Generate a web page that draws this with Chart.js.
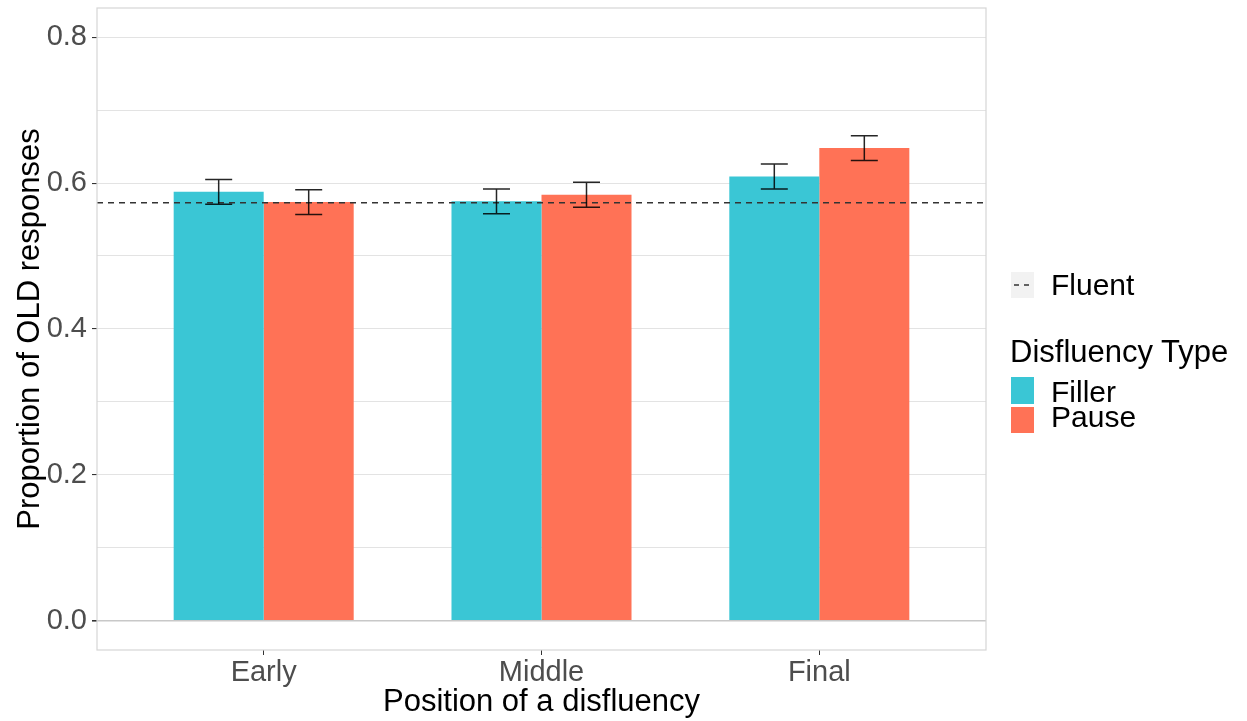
<!DOCTYPE html>
<html>
<head>
<meta charset="utf-8">
<script src="https://cdn.jsdelivr.net/npm/chart.js@4.4.1/dist/chart.umd.min.js"></script>
<style>
    body { margin: 0; background: #fff; }
    #contenedor {
        position: relative;
        width: 1247px;
        height: 721px;
        font-family: "Liberation Sans", Arial, sans-serif;
        color: #000;
    }
    #grafico { position: absolute; left: 0; top: 0; }
    .clave { position: absolute; left: 1011px; width: 23px; }
    .texto { position: absolute; left: 1051px; font-size: 30px; line-height: 30px; white-space: nowrap; }
</style>
</head>
<body>
<div id="contenedor">
    <canvas id="grafico" width="1247" height="721"></canvas>

    <div class="clave" style="top:272px;height:26px;background:#F2F2F2;">
        <svg width="23" height="26"><line x1="3" y1="13" x2="21" y2="13" stroke="#333" stroke-width="1.5" stroke-dasharray="5,5"/></svg>
    </div>
    <div class="texto" style="top:270px;">Fluent</div>

    <div class="texto" style="left:1010px;top:336px;font-size:31px;line-height:31px;">Disfluency Type</div>

    <div class="clave" style="top:377px;height:27px;background:#3AC6D5;"></div>
    <div class="texto" style="top:377px;">Filler</div>
    <div class="clave" style="top:407px;height:26px;background:#FF7256;"></div>
    <div class="texto" style="top:402px;">Pause</div>
</div>

<script>
const categorias = ["Early", "Middle", "Final"];

const filler = [0.588, 0.575, 0.609];
const fillerError = [0.017, 0.017, 0.017];

const pause = [0.574, 0.584, 0.648];
const pauseError = [0.017, 0.017, 0.017];

const fluent = 0.573;

const ticksY = [0, 0.1, 0.2, 0.3, 0.4, 0.5, 0.6, 0.7, 0.8];
const etiquetasY = [0, 0.2, 0.4, 0.6, 0.8];

const limitesX = [0.4, 3.6];
const limitesY = [-0.04, 0.84];

const colorFiller = "#3AC6D5";
const colorPause = "#FF7256";

function esMayor(valor) {
    return etiquetasY.some(e => Math.abs(e - valor) < 1e-6);
}

const marcoYErrores = {
    id: "marcoYErrores",
    afterDatasetsDraw(chart) {
        const ctx = chart.ctx;
        const escalaY = chart.scales.y;
        const series = [[0, filler, fillerError], [1, pause, pauseError]];

        ctx.save();
        ctx.strokeStyle = "rgba(0,0,0,0.85)";
        ctx.lineWidth = 1.5;

        series.forEach(([indice, valores, errores]) => {
            const meta = chart.getDatasetMeta(indice);
            meta.data.forEach((barra, j) => {
                const arriba = escalaY.getPixelForValue(valores[j] + errores[j]);
                const abajo = escalaY.getPixelForValue(valores[j] - errores[j]);
                const mitad = barra.width * 0.15;

                ctx.beginPath();
                ctx.moveTo(barra.x, arriba);
                ctx.lineTo(barra.x, abajo);
                ctx.moveTo(barra.x - mitad, arriba);
                ctx.lineTo(barra.x + mitad, arriba);
                ctx.moveTo(barra.x - mitad, abajo);
                ctx.lineTo(barra.x + mitad, abajo);
                ctx.stroke();
            });
        });
        ctx.restore();
    },
    afterDraw(chart) {
        const area = chart.chartArea;
        const ctx = chart.ctx;
        ctx.save();
        ctx.strokeStyle = "#D6D6D6";
        ctx.lineWidth = 1.2;
        ctx.strokeRect(area.left, area.top, area.right - area.left, area.bottom - area.top);
        ctx.restore();
    }
};

new Chart(document.getElementById("grafico"), {
    type: "bar",
    data: {
        datasets: [
            {
                label: "Filler",
                data: filler.map((v, i) => ({ x: i + 1, y: v })),
                backgroundColor: colorFiller,
                order: 1
            },
            {
                label: "Pause",
                data: pause.map((v, i) => ({ x: i + 1, y: v })),
                backgroundColor: colorPause,
                order: 1
            },
            {
                type: "line",
                label: "Fluent",
                data: limitesX.map(x => ({ x: x, y: fluent })),
                borderColor: "#333",
                borderWidth: 1.6,
                borderDash: [6, 5],
                pointRadius: 0,
                order: 0
            }
        ]
    },
    options: {
        responsive: false,
        animation: false,
        categoryPercentage: 0.648,
        barPercentage: 1,
        layout: {
            padding: { top: 8, right: 261, left: 0, bottom: 0 }
        },
        plugins: {
            legend: { display: false },
            tooltip: { enabled: false }
        },
        scales: {
            x: {
                type: "linear",
                min: limitesX[0],
                max: limitesX[1],
                offset: false,
                afterBuildTicks: escala => {
                    escala.ticks = categorias.map((c, i) => ({ value: i + 1 }));
                },
                afterFit: escala => {
                    escala.height = 71;
                    escala.paddingLeft = 0;
                    escala.paddingRight = 0;
                },
                grid: {
                    offset: false,
                    drawOnChartArea: false,
                    color: "#333",
                    tickLength: 5
                },
                border: { display: false },
                ticks: {
                    autoSkip: false,
                    maxRotation: 0,
                    padding: 1,
                    color: "#4D4D4D",
                    font: { family: "Liberation Sans", size: 29 },
                    callback: valor => categorias[valor - 1]
                },
                title: {
                    display: true,
                    text: "Position of a disfluency",
                    color: "#000",
                    padding: { top: 0, bottom: 0 },
                    font: { family: "Liberation Sans", size: 31 }
                }
            },
            y: {
                min: limitesY[0],
                max: limitesY[1],
                afterBuildTicks: escala => {
                    escala.ticks = ticksY.map(v => ({ value: v }));
                },
                afterFit: escala => {
                    escala.width = 97;
                    escala.paddingTop = 0;
                    escala.paddingBottom = 0;
                },
                grid: {
                    color: ctx => {
                        const v = ctx.tick ? ctx.tick.value : 1;
                        return Math.abs(v) < 1e-6 ? "#C8C8C8" : "#E3E3E3";
                    },
                    lineWidth: ctx => {
                        const v = ctx.tick ? ctx.tick.value : 1;
                        return Math.abs(v) < 1e-6 ? 1.6 : 1.1;
                    },
                    tickColor: ctx => {
                        const v = ctx.tick ? ctx.tick.value : 1;
                        return esMayor(v) ? "#333" : "rgba(0,0,0,0)";
                    },
                    tickLength: 5
                },
                border: { display: false },
                ticks: {
                    autoSkip: false,
                    padding: 5,
                    color: "#4D4D4D",
                    font: { family: "Liberation Sans", size: 29 },
                    callback: valor => esMayor(valor) ? valor.toFixed(1) : ""
                },
                title: {
                    display: true,
                    text: "Proportion of OLD responses",
                    color: "#000",
                    padding: { top: 12, bottom: 0 },
                    font: { family: "Liberation Sans", size: 31 }
                }
            }
        }
    },
    plugins: [marcoYErrores]
});
</script>
</body>
</html>
